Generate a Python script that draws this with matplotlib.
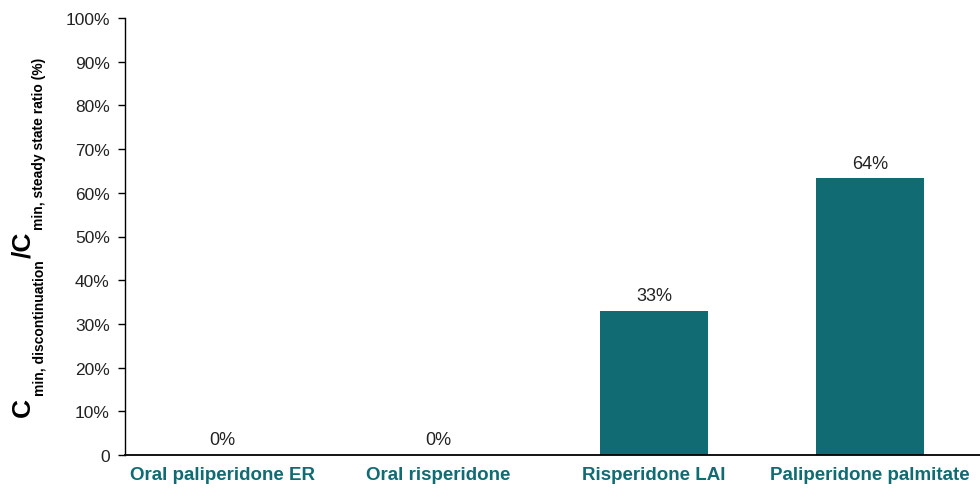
import matplotlib
matplotlib.use("Agg")
import matplotlib.pyplot as plt
from matplotlib.transforms import IdentityTransform

categories = ["Oral paliperidone ER", "Oral risperidone", "Risperidone LAI", "Paliperidone palmitate"]
values = [0, 0, 33, 63.3]
value_labels = ["0%", "0%", "33%", "64%"]
yticks = [0, 10, 20, 30, 40, 50, 60, 70, 80, 90, 100]
ytick_labels = ["0"] + [f"{v}%" for v in yticks[1:]]
ylabel_parts = [("C", "main"), ("min, discontinuation", "sub"),
                ("/C", "main"), ("min, steady state ratio (%)", "sub")]

plt.rcParams['font.family'] = ['Liberation Sans', 'DejaVu Sans']

teal = "#106B73"
W, H = 980, 489
fig = plt.figure(figsize=(W / 100, H / 100), dpi=100)
ax = fig.add_axes([125 / W, 1 - 456 / H, 1 - 125 / W, 437 / H])

x = list(range(len(categories)))
ax.bar(x, values, width=0.5, color=teal)
for xi, v, lab in zip(x, values, value_labels):
    ax.text(xi, v + 1.5, lab, ha='center', va='bottom', fontsize=13, color='#222222')

ax.set_xlim(-0.45, 3.51)
ax.set_ylim(0, 100)
ax.set_yticks(yticks)
ax.set_yticklabels(ytick_labels, fontsize=12.5, color='#222222')
ax.set_xticks(x)
ax.set_xticklabels(categories, fontsize=13.5, fontweight='bold', color=teal)
ax.tick_params(axis='x', length=0, pad=8)
ax.tick_params(axis='y', length=5, width=1, direction='out', pad=6)
for s in ['top', 'right']:
    ax.spines[s].set_visible(False)
ax.spines['left'].set_linewidth(1)
ax.spines['bottom'].set_linewidth(1.3)

# Y-axis label built from rotated pieces (large C with small bold subscripts)
renderer = fig.canvas.get_renderer()
ypos = 72
styles = {"main": (19, 30), "sub": (10, 43)}
for txt, kind in ylabel_parts:
    size, xbase = styles[kind]
    t = fig.text(xbase, ypos, txt, transform=IdentityTransform(), rotation=90,
                 rotation_mode='anchor', ha='left', va='baseline',
                 fontsize=size, fontweight='bold', color='black')
    bb = t.get_window_extent(renderer)
    ypos = bb.y1 + 2

fig.savefig("out.png", dpi=100)
